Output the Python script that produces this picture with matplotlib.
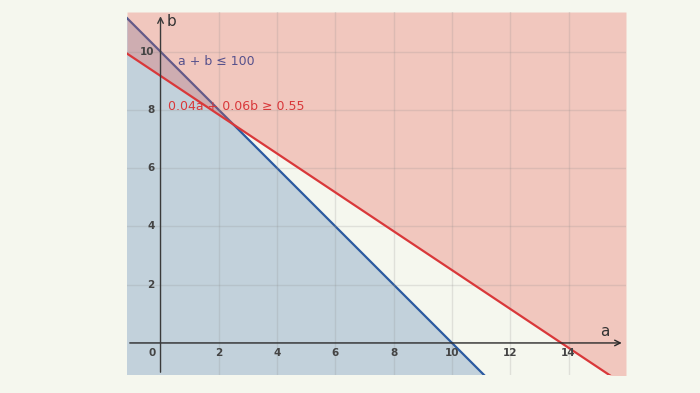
import numpy as np
import matplotlib.pyplot as plt

# constraints: coef_a * a + coef_b * b  (op)  rhs
blue_coef = [1.0, 1.0]
blue_rhs = 10.0
red_coef = [0.04, 0.06]
red_rhs = 0.55
blue_label = "a + b ≤ 100"
red_label = "0.04a + 0.06b ≥ 0.55"
x_ticks = [2, 4, 6, 8, 10, 12, 14]
y_ticks = [2, 4, 6, 8, 10]

bg = "#f5f7ee"
fig = plt.figure(figsize=(7, 3.93), dpi=100, facecolor=bg)
ax = fig.add_axes([127 / 700, 18 / 393, 499 / 700, 363 / 393])
ax.set_facecolor(bg)
xmin, xmax, ymin, ymax = -1.15, 15.97, -1.10, 11.36
ax.set_xlim(xmin, xmax)
ax.set_ylim(ymin, ymax)
for s in ax.spines.values():
    s.set_visible(False)
ax.set_xticks([])
ax.set_yticks([])

a = np.linspace(xmin, xmax, 200)
b_blue = (blue_rhs - blue_coef[0] * a) / blue_coef[1]
b_red = (red_rhs - red_coef[0] * a) / red_coef[1]

# blue region (below blue line)
ax.fill_between(a, ymin, b_blue, color="#c2d1db", lw=0, zorder=1)
ax.plot(a, b_blue, color="#2b5aa0", lw=1.6, zorder=2)
# red region (above red line), semi transparent on top
ax.fill_between(a, b_red, ymax, color="#ea5a52", alpha=0.3, lw=0, zorder=3)
ax.plot(a, b_red, color="#d9383a", lw=1.6, zorder=5)

# grid
for xv in x_ticks:
    ax.axvline(xv, color="#888888", lw=1, alpha=0.2, zorder=4)
for yv in y_ticks:
    ax.axhline(yv, color="#888888", lw=1, alpha=0.2, zorder=4)

# axes with arrows
ax.annotate("", xy=(xmax - 0.05, 0), xytext=(xmin, 0),
            arrowprops=dict(arrowstyle="->", color="#2a2a2a", lw=1), zorder=6)
ax.annotate("", xy=(0, ymax - 0.05), xytext=(0, ymin),
            arrowprops=dict(arrowstyle="->", color="#3a3a3a", lw=1), zorder=6)
ax.text(15.25, 0.12, "a", fontsize=11, color="#333333", ha="center", va="bottom", zorder=7)
ax.text(0.22, 11.05, "b", fontsize=11, color="#333333", ha="left", va="center", zorder=7)

tick_c = "#444444"
for xv in x_ticks:
    ax.text(xv, -0.35, str(xv), fontsize=7.5, fontweight="bold", color=tick_c,
            ha="center", va="center", zorder=7)
ax.text(-0.28, -0.35, "0", fontsize=7.5, fontweight="bold", color=tick_c,
        ha="center", va="center", zorder=7)
for yv in y_ticks:
    ax.text(-0.2, yv, str(yv), fontsize=7.5, fontweight="bold", color=tick_c,
            ha="right", va="center", zorder=7)

ax.text(0.6, 9.65, blue_label, fontsize=9, color="#56518c", ha="left", va="center", zorder=7)
ax.text(0.25, 8.12, red_label, fontsize=9, color="#d9383a", ha="left", va="center", zorder=7)

fig.savefig("out.png", dpi=100, facecolor=bg)
